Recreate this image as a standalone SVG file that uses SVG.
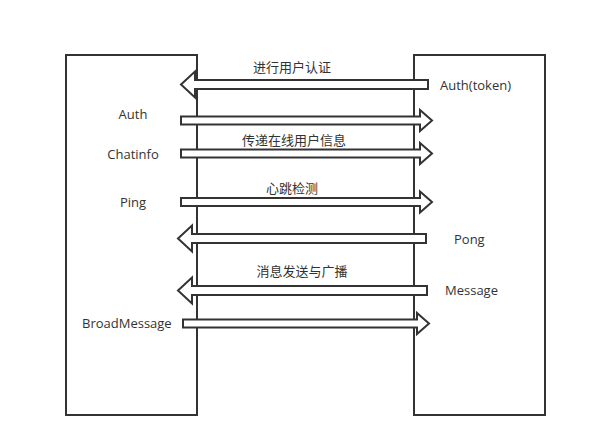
<svg xmlns="http://www.w3.org/2000/svg" width="591" height="448" viewBox="0 0 591 448">
<style>
.box{fill:#fff;stroke:#333;stroke-width:2}
.arr{fill:#fff;stroke:#333;stroke-width:2;stroke-linejoin:miter}
.t{font-family:"Open Sans","Noto Sans CJK SC",sans-serif;font-size:13px;fill:#333}
.c{text-anchor:middle}
</style>
<rect width="591" height="448" fill="#fff"/>
<g id="client">
<rect class="box" x="66" y="55" width="131" height="360"/>
<text class="t c" x="133" y="119">Auth</text>
<text class="t c" x="133" y="159">Chatinfo</text>
<text class="t c" x="133" y="207">Ping</text>
<text class="t" x="82" y="328">BroadMessage</text>
</g>
<g id="server">
<rect class="box" x="414" y="55" width="131" height="360"/>
<text class="t" x="440" y="90">Auth(token)</text>
<text class="t" x="454" y="244">Pong</text>
<text class="t" x="445" y="295">Message</text>
</g>
<g id="connectors">
<polygon class="arr" points="181,84.5 195,71.5 195,80 428,80 428,89 195,89 195,97.5"/>
<text class="t c" x="292" y="72">进行用户认证</text>
<polygon class="arr" points="181,116.5 420,116.5 420,110 432,120.5 420,131 420,124.5 181,124.5"/>
<polygon class="arr" points="181,149.5 420,149.5 420,143 432,153.5 420,164 420,157.5 181,157.5"/>
<text class="t c" x="294" y="145">传递在线用户信息</text>
<polygon class="arr" points="181,198 420,198 420,191.5 432,202 420,212.5 420,206 181,206"/>
<text class="t c" x="292" y="193">心跳检测</text>
<polygon class="arr" points="178,238.5 192,225.5 192,234 426,234 426,243 192,243 192,251.5"/>
<polygon class="arr" points="178,290.5 192,277.5 192,286 427,286 427,295 192,295 192,303.5"/>
<text class="t c" x="302" y="276">消息发送与广播</text>
<polygon class="arr" points="183,319.5 417,319.5 417,313 429,323.5 417,334 417,327.5 183,327.5"/>
</g>
</svg>
